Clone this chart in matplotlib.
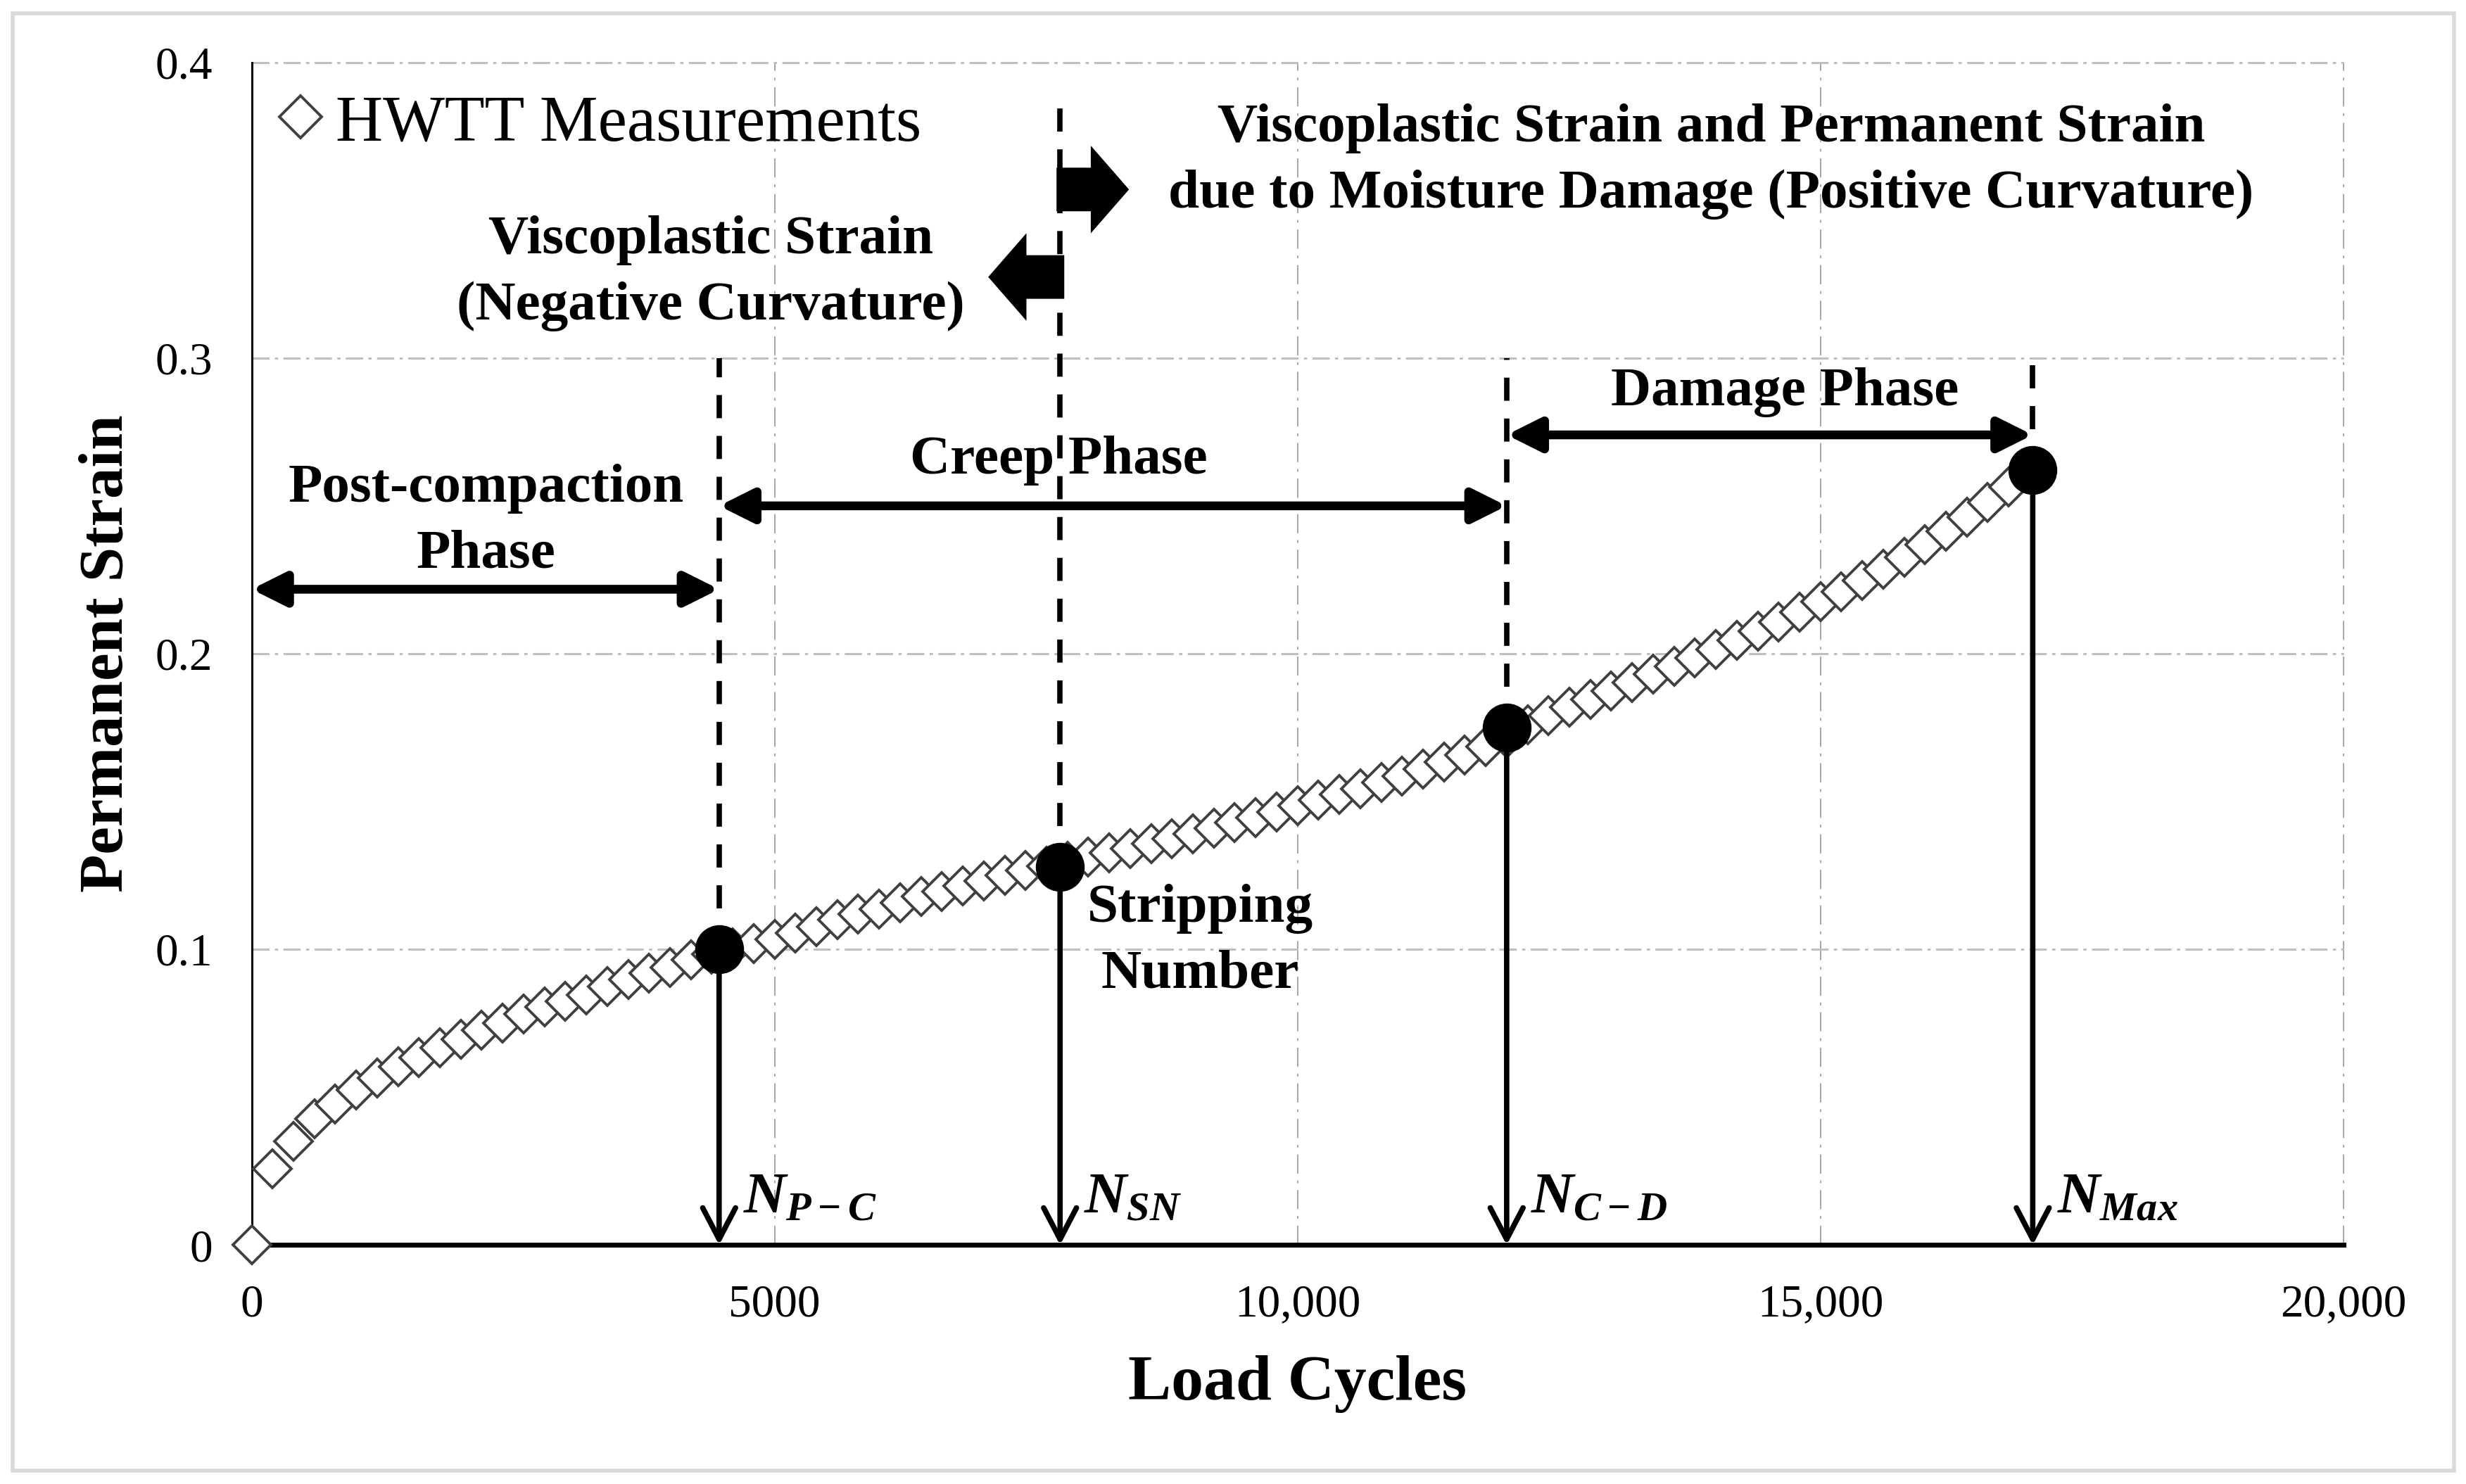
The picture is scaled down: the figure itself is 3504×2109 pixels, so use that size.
import matplotlib
matplotlib.use('Agg')
import matplotlib.pyplot as plt
from matplotlib.patches import Rectangle

plt.rcParams['font.family'] = ['Liberation Serif', 'DejaVu Serif']
plt.rcParams['mathtext.fontset'] = 'custom'
plt.rcParams['mathtext.it'] = 'Liberation Serif:italic:bold'
plt.rcParams['mathtext.rm'] = 'Liberation Serif:bold'
plt.rcParams['mathtext.bf'] = 'Liberation Serif:bold'

# HWTT measurements (load cycles vs permanent strain)
cycles = [0, 200, 400, 600, 800, 1000, 1200, 1400, 1600, 1800,
          2000, 2200, 2400, 2600, 2800, 3000, 3200, 3400, 3600, 3800,
          4000, 4200, 4400, 4600, 4800, 5000, 5200, 5400, 5600, 5800,
          6000, 6200, 6400, 6600, 6800, 7000, 7200, 7400, 7600, 7800,
          8000, 8200, 8400, 8600, 8800, 9000, 9200, 9400, 9600, 9800,
          10000, 10200, 10400, 10600, 10800, 11000, 11200, 11400, 11600, 11800,
          12000, 12200, 12400, 12600, 12800, 13000, 13200, 13400, 13600, 13800,
          14000, 14200, 14400, 14600, 14800, 15000, 15200, 15400, 15600, 15800,
          16000, 16200, 16400, 16600, 16800, 17000]
strain = [0.0, 0.0258, 0.0352, 0.0426, 0.0478, 0.0525, 0.0564, 0.0604, 0.0633, 0.0668,
          0.0697, 0.0727, 0.0751, 0.0781, 0.0806, 0.0825, 0.0845, 0.0875, 0.0899, 0.0919,
          0.0939, 0.0964, 0.0985, 0.1005, 0.1020, 0.1035, 0.1055, 0.1077, 0.1100, 0.1120,
          0.1137, 0.1158, 0.1178, 0.1196, 0.1214, 0.1232, 0.1250, 0.1267, 0.1282, 0.1297,
          0.1312, 0.1327, 0.1342, 0.1358, 0.1375, 0.1392, 0.1410, 0.1428, 0.1446, 0.1465,
          0.1485, 0.1504, 0.1523, 0.1543, 0.1564, 0.1586, 0.1609, 0.1633, 0.1658, 0.1685,
          0.1715, 0.1760, 0.1790, 0.1818, 0.1845, 0.1875, 0.1902, 0.1930, 0.1957, 0.1986,
          0.2015, 0.2045, 0.2075, 0.2106, 0.2140, 0.2175, 0.2210, 0.2247, 0.2286, 0.2327,
          0.2370, 0.2415, 0.2462, 0.2512, 0.2563, 0.2615]

# characteristic points
key_x = [4470, 7730, 12000, 17030]
key_y = [0.100, 0.128, 0.175, 0.262]
key_top = [0.300, 0.388, 0.300, 0.300]
key_labels = [r'$N_{P-C}$', r'$N_{SN}$', r'$N_{C-D}$', r'$N_{Max}$']

xticks = [0, 5000, 10000, 15000, 20000]
xtick_labels = ['0', '5000', '10,000', '15,000', '20,000']
yticks = [0, 0.1, 0.2, 0.3, 0.4]
ytick_labels = ['0', '0.1', '0.2', '0.3', '0.4']

fig = plt.figure(figsize=(35.05, 21.09), dpi=100)
ax = fig.add_axes([0.102, 0.161, 0.848, 0.797])

ax.set_xlim(0, 20000)
ax.set_ylim(0, 0.4)
ax.set_xticks(xticks)
ax.set_xticklabels(xtick_labels)
ax.set_yticks(yticks)
ax.set_yticklabels(ytick_labels)
ax.tick_params(length=0, labelsize=47, pad=40)

ax.grid(axis='y', color='#BFBFBF', lw=2.2, ls=(0, (8, 2.5, 1.5, 2.5)), clip_on=False)
ax.grid(axis='x', color='#A6A6A6', lw=1.4, ls=(0, (14, 5, 2, 5)), clip_on=False)
ax.set_axisbelow(True)
for s in ['top', 'right']:
    ax.spines[s].set_visible(False)
ax.spines['left'].set_linewidth(2.2)
ax.spines['bottom'].set_linewidth(5)

ax.set_xlabel('Load Cycles', fontsize=66, fontweight='bold', labelpad=30)
ax.set_ylabel('Permanent Strain', fontsize=64, fontweight='bold', labelpad=20)

ax.plot(cycles, strain, ls='none', marker='D', ms=27, mfc='white', mec='#404040',
        mew=2.8, label='HWTT Measurements', clip_on=False, zorder=3)

# vertical markers at characteristic points
for x, y, top, lab in zip(key_x, key_y, key_top, key_labels):
    ax.plot([x, x], [y, top], color='black', lw=5.5, ls=(0, (4.3, 3.3)), zorder=4)
    ax.annotate('', xy=(x, 0), xytext=(x, y),
                arrowprops=dict(arrowstyle='->,head_length=0.67,head_width=0.35',
                                mutation_scale=48, lw=5.5, color='black',
                                shrinkA=0, shrinkB=0), zorder=4)
    ax.text(x + 230, 0.011, lab, fontsize=60, ha='left', va='baseline')

ax.plot(key_x, key_y, ls='none', marker='o', ms=49, color='black', zorder=5)

# phase double arrows
phases = [(0, key_x[0], 0.2218), (key_x[0], key_x[2], 0.2500), (key_x[2], key_x[3], 0.2740)]
for x0, x1, y in phases:
    ax.annotate('', xy=(x1, y), xytext=(x0, y),
                arrowprops=dict(arrowstyle='<|-|>,head_length=0.72,head_width=0.36',
                                mutation_scale=40, lw=9, color='black',
                                shrinkA=0, shrinkB=0), zorder=4)

tkw = dict(fontsize=57, fontweight='bold', ha='center', va='center', linespacing=1.42)
ax.text(2240, 0.2447, 'Post-compaction\nPhase', **tkw)
ax.text(7714, 0.2654, 'Creep Phase', **tkw)
ax.text(14662, 0.2883, 'Damage Phase', **tkw)
ax.text(9068, 0.1027, 'Stripping\nNumber', **tkw)
ax.text(4391, 0.3287, 'Viscoplastic Strain\n(Negative Curvature)', **tkw)
ax.text(13955, 0.3665, 'Viscoplastic Strain and Permanent Strain\n'
        'due to Moisture Damage (Positive Curvature)', **tkw)

# block arrows at the stripping number
block = 'simple,head_length=0.85,head_width=1.95,tail_width=0.97'
ax.annotate('', xy=(8389, 0.3570), xytext=(7696, 0.3570),
            arrowprops=dict(arrowstyle=block, mutation_scale=46, color='black', lw=0,
                            shrinkA=0, shrinkB=0), zorder=4)
ax.annotate('', xy=(7043, 0.3274), xytext=(7770, 0.3274),
            arrowprops=dict(arrowstyle=block, mutation_scale=46, color='black', lw=0,
                            shrinkA=0, shrinkB=0), zorder=4)

ax.legend(loc='center left', bbox_to_anchor=(0.0141, 0.9477), frameon=False,
          fontsize=67, handletextpad=0.23, borderpad=0, borderaxespad=0,
          handlelength=0.6, markerscale=1.15)

# outer frame
fig.patches.append(Rectangle((0.005, 0.009), 0.99, 0.982, transform=fig.transFigure,
                             fill=False, ec='#D9D9D9', lw=4))

fig.savefig('out.png', dpi=100)
